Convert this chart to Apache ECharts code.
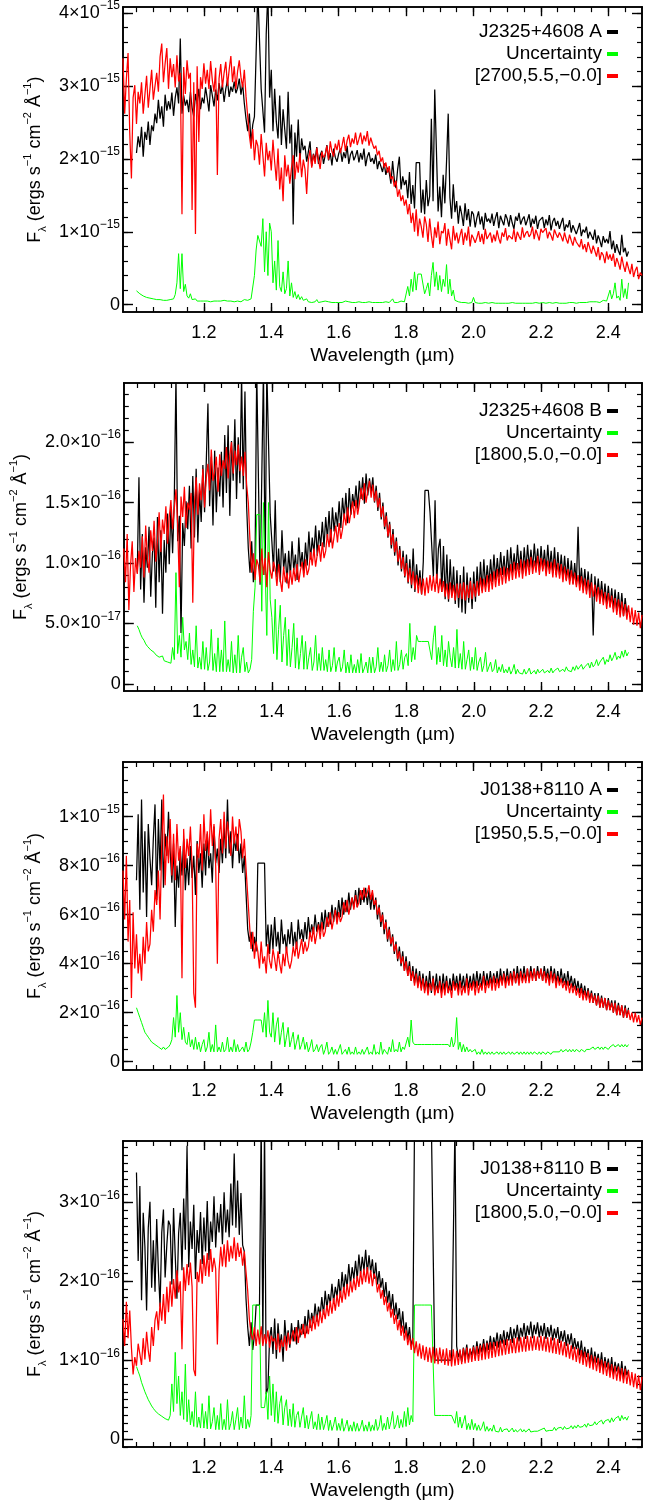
<!DOCTYPE html>
<html><head><meta charset="utf-8">
<script src="https://cdn.jsdelivr.net/npm/echarts@6/dist/echarts.min.js"></script>
<style>html,body{margin:0;padding:0;background:#fff}#c{width:661px;height:1501px}</style>
</head><body><div id="c"></div>
<script>
// ---------------- DATA ----------------
// wavelength grids (micron): each array is sampled every STEP from its start
const RED_START = 0.96, BLACK_START = 1.0, GREEN_START = 1.0;
const STEP = 0.005;
const xMajor = [1.2, 1.4, 1.6, 1.8, 2.0, 2.2, 2.4];

// Panel 1 (units of 1e-17 erg/s/cm2/A)
const p1Black = [
208,231,216,244,203,237,226,251,219,246,
238,262,249,281,255,272,244,288,266,279,
268,291,259,284,298,276,365,262,287,273,
281,264,292,270,258,289,275,296,268,284,
276,298,283,265,301,287,272,295,280,304,
289,302,278,296,308,285,299,292,306,290,
297,310,288,303,276,255,238,262,221,247,
258,344,430,430,296,296,236,372,430,284,
322,238,296,251,228,287,219,268,240,214,
292,221,247,110,236,203,254,197,228,212,
218,196,210,224,190,207,199,216,193,205,
211,193,205,219,198,208,191,214,202,196,
207,214,196,209,201,218,193,206,211,198,
204,212,195,208,199,214,190,203,209,196,
201,193,206,186,197,190,182,194,178,188,
181,166,197,172,160,186,203,158,176,164,
171,146,182,138,164,132,195,195,195,126,
158,124,171,135,149,255,142,295,295,128,
162,120,178,139,196,262,147,118,165,127,
142,111,136,124,108,139,116,131,107,128,
124,106,119,128,110,121,103,126,114,118,
112,125,108,119,127,105,122,115,109,124,
118,107,123,112,104,121,115,126,110,117,
121,109,116,124,106,118,111,122,104,115,
113,120,105,117,109,123,102,114,119,108,
115,104,112,119,101,110,106,116,99,109,
108,97,104,112,94,103,99,107,91,100,
98,89,103,84,95,88,79,94,85,90,
84,101,76,88,71,83,74,68,96,72,
78,66,73];
const p1Green = [
19,17,15,14,12,11,10,10,9,9,
8,8,7,8,7,7,6,7,6,6,
7,9,8,14,30,70,22,70,18,28,
12,9,15,7,6,8,5,6,5,7,
5,6,5,5,4,6,5,4,5,7,
5,4,6,5,5,4,5,6,4,5,
5,6,4,5,7,5,6,5,8,10,
40,75,95,95,80,118,45,100,40,112,
100,30,60,20,88,25,18,45,15,22,
60,12,30,10,18,8,14,7,11,6,
5,8,4,6,3,5,4,7,3,4,
4,3,5,3,4,6,3,4,3,5,
3,4,3,3,5,3,4,3,3,4,
3,3,4,3,3,5,3,3,4,3,
3,4,3,3,3,4,3,3,4,3,
3,3,8,3,4,3,3,5,3,4,
4,25,12,35,18,45,20,42,42,42,
42,15,22,30,12,40,58,25,45,20,
40,18,35,25,55,15,35,12,20,6,
5,4,4,3,3,3,3,2,3,3,
10,3,3,2,3,2,2,3,2,2,
2,3,2,2,3,2,2,2,3,2,
2,2,2,3,2,2,2,2,3,2,
2,2,3,2,2,2,2,3,2,2,
2,3,2,2,2,3,2,2,2,3,
2,2,3,2,3,2,2,3,2,3,
3,2,3,3,2,3,4,3,3,4,
3,4,3,4,5,3,4,6,4,5,
6,20,8,15,30,9,12,6,35,10,
22,8,30];
const p1Red = [
338,262,310,345,236,173,284,301,248,292,
276,305,262,288,314,270,296,322,281,300,
318,292,340,358,305,331,352,296,338,312,
330,298,342,306,318,124,326,289,335,310,
318,130,305,97,327,223,312,296,331,303,
322,296,334,308,292,325,178,310,330,298,
318,333,300,322,341,305,327,296,320,335,
312,298,322,286,258,232,214,241,198,226,
218,192,234,205,176,222,198,211,184,226,
196,170,214,158,188,142,205,176,192,166,
188,205,172,196,181,208,175,199,186,152,
198,212,188,206,193,215,199,186,210,202,
206,218,199,224,210,203,221,212,226,208,
218,230,211,225,233,216,228,221,236,219,
227,236,220,232,224,238,218,229,221,214,
218,205,211,196,202,188,195,181,190,172,
176,162,170,148,158,142,150,136,144,124,
138,112,126,100,131,94,118,107,92,121,
110,86,118,95,78,106,92,114,83,101,
98,112,81,104,90,76,108,88,99,84,
95,104,82,99,88,107,80,96,91,85,
92,101,86,97,83,104,90,88,99,85,
96,87,102,91,84,99,93,105,88,95,
97,90,104,86,100,94,89,106,92,98,
101,93,97,107,90,103,96,88,104,99,
98,105,91,100,95,88,103,97,92,99,
94,87,99,90,84,96,88,81,93,86,
85,79,90,76,83,72,86,78,70,81,
74,66,79,61,72,68,57,73,62,69,
60,70,52,64,57,48,66,54,45,59,
50,42,56,38,47,52,35,44,40];

// Panel 2 (units of 1e-18)
const p2Black = [
92,171,78,124,67,113,96,130,72,108,
121,63,138,84,127,58,119,92,141,99,
146,108,152,255,118,139,42,133,114,151,
128,164,112,172,121,178,117,160,134,181,
142,183,232,147,188,131,193,142,179,155,
192,146,206,158,214,139,201,168,219,153,
204,166,255,161,242,147,112,92,118,84,
100,260,260,82,82,260,90,260,260,140,
118,93,152,88,112,84,127,95,108,83,
110,89,118,94,107,86,121,97,109,92,
117,98,126,103,121,108,131,106,127,114,
134,113,138,120,143,117,146,126,142,130,
151,129,154,137,158,133,162,140,157,147,
164,145,168,153,171,149,174,156,170,158,
171,150,164,143,158,136,150,128,142,121,
134,112,128,106,121,98,114,93,110,88,
107,83,103,79,112,76,99,81,94,74,
101,160,160,160,142,142,88,152,83,112,
120,76,114,70,107,68,103,73,97,66,
94,63,90,59,97,58,92,67,88,62,
93,68,97,73,101,77,103,80,98,82,
103,84,107,86,104,88,109,90,106,87,
111,89,113,92,108,93,115,94,110,91,
113,94,115,96,111,95,116,97,112,93,
114,95,111,93,115,94,110,92,113,90,
109,90,107,88,106,86,104,85,102,83,
100,82,130,80,96,78,95,77,93,75,
91,40,89,72,87,70,85,68,83,66,
81,64,79,62,78,60,76,58,75,56,
71,58,64];
const p2Green = [
48,45,41,38,36,33,31,30,28,27,
26,24,25,22,21,23,19,20,18,19,
17,30,20,92,25,40,22,55,28,35,
20,42,16,28,14,48,13,22,12,35,
12,30,11,18,45,11,25,10,38,10,
28,10,52,10,20,10,35,9,24,9,
40,9,22,30,10,18,9,12,20,60,
80,140,140,140,60,150,95,40,150,70,
55,25,70,20,45,65,18,40,55,15,
45,14,30,50,13,38,12,25,40,12,
35,12,22,30,11,18,40,11,25,11,
30,11,20,10,28,10,15,30,10,18,
22,10,14,28,9,18,9,24,9,16,
9,20,9,25,9,13,18,9,22,9,
22,9,14,30,10,18,10,24,10,15,
28,10,20,11,35,11,16,28,12,22,
25,15,50,18,30,20,40,35,35,35,
35,35,35,35,35,20,38,48,16,30,
18,40,15,28,14,35,22,14,30,13,
45,13,25,12,35,12,20,28,11,22,
12,30,11,18,22,10,15,26,10,14,
18,10,12,20,9,14,10,16,9,12,
9,14,8,11,16,8,12,9,10,8,
12,8,10,13,8,9,11,8,12,9,
8,12,9,10,11,9,13,9,11,10,
13,10,11,12,10,14,11,12,10,14,
11,15,12,13,16,12,14,13,17,13,
18,14,16,20,15,18,17,22,16,20,
18,24,19,22,26,20,23,21,27,22,
28,23,26];
const p2Red = [
112,84,124,61,98,118,76,104,91,110,
96,122,88,131,104,92,127,110,135,101,
118,142,109,136,124,147,116,138,152,128,
145,161,132,80,155,138,163,129,150,144,
158,67,149,171,140,166,152,178,146,170,
182,160,194,168,176,188,159,190,172,185,
178,196,170,189,200,174,193,181,198,176,
188,172,192,165,150,118,92,108,86,103,
98,84,112,90,104,80,109,94,87,101,
95,81,99,86,76,97,84,92,79,94,
82,96,85,99,84,94,101,88,103,90,
95,109,98,112,97,107,115,101,117,104,
110,124,113,128,112,122,131,117,133,120,
128,141,131,146,133,142,151,137,152,140,
149,162,152,166,150,160,168,154,165,151,
160,146,154,138,147,130,139,122,132,115,
124,109,118,101,111,95,105,89,100,84,
96,82,93,78,90,75,88,74,87,73,
88,75,90,77,89,76,91,75,87,76,
85,72,83,70,84,71,82,69,83,71,
83,70,84,69,82,71,85,70,83,72,
85,73,88,75,87,76,90,76,91,78,
93,80,95,81,96,82,97,83,96,85,
99,86,101,87,100,88,103,87,102,89,
103,90,105,91,102,92,106,90,104,93,
103,89,102,91,101,88,103,88,100,87,
99,84,97,85,95,82,94,82,92,80,
90,77,89,75,87,74,86,71,84,72,
82,68,80,66,78,65,76,62,75,63,
73,59,71,57,70,55,68,56,66,53,
65,51,63,49,61,48,59,46,57];

// Panel 3 (units of 1e-17)
const p3Black = [
74,101,62,107,69,94,59,97,83,72,
91,105,66,99,78,107,71,93,84,102,
86,73,89,55,80,71,87,76,91,70,
83,72,88,75,84,68,90,77,85,71,
89,76,93,79,85,73,96,81,87,77,
91,81,97,83,107,85,94,79,92,86,
93,81,89,77,84,69,54,49,53,45,
51,45,81,81,81,81,81,47,56,44,
56,46,59,47,53,44,58,48,52,45,
54,48,57,47,53,46,58,50,54,49,
57,50,59,51,56,52,60,53,57,53,
61,54,62,55,61,56,64,57,63,58,
66,59,67,60,66,61,69,62,67,63,
70,63,71,64,70,65,71,64,70,62,
69,62,67,58,64,55,61,52,58,49,
55,47,52,44,49,41,47,39,45,37,
43,35,41,33,39,32,38,31,37,30,
36,29,35,29,37,28,35,29,36,28,
35,28,36,29,35,28,34,29,36,30,
35,29,36,30,35,29,36,30,35,30,
36,30,37,31,36,30,37,31,36,31,
37,31,36,32,37,31,38,32,37,32,
38,32,37,33,38,32,39,33,38,33,
39,33,38,33,39,34,38,33,39,34,
38,33,39,34,38,33,39,33,38,32,
37,32,38,32,36,31,37,31,35,30,
34,29,33,28,32,27,31,26,30,25,
29,24,28,23,28,22,27,22,26,21,
26,21,25,20,25,19,24,19,23,18,
23,18,22];
const p3Green = [
22,20,18,16,14,12,11,10,9,8,
8,7,7,6,6,5,6,5,5,6,
7,9,18,10,27,12,20,9,14,8,
7,12,6,9,5,10,5,8,4,7,
9,4,6,12,4,7,4,15,4,6,
4,8,4,5,10,4,6,4,9,4,
7,4,5,6,4,8,4,5,8,12,
17,17,17,17,17,12,20,10,25,12,
10,20,8,15,18,7,12,16,6,10,
14,6,9,12,5,8,11,5,7,10,
5,8,4,6,9,4,5,7,4,6,
7,3,5,8,3,4,6,3,5,3,
3,7,3,4,5,3,6,3,4,3,
6,3,4,3,5,3,3,6,3,4,
3,7,3,4,3,8,3,5,4,3,
6,4,9,4,5,4,8,4,6,5,
5,10,6,17,8,7,7,7,7,7,
7,7,7,7,7,7,7,7,7,7,
7,7,7,7,7,7,6,10,6,8,
18,5,8,4,7,4,6,4,5,4,
4,5,3,4,3,5,3,4,3,4,
3,4,3,3,4,3,4,3,4,3,
3,4,3,4,3,3,4,3,4,3,
4,3,4,3,4,3,4,4,3,4,
3,4,4,3,4,4,3,4,4,4,
4,4,5,4,4,5,4,5,4,5,
4,5,5,4,5,5,4,5,5,5,
5,6,5,5,6,5,6,5,6,6,
5,6,6,7,6,6,7,6,7,6,
7,6,7];
const p3Red = [
78,58,84,49,66,26,61,38,52,36,
44,33,51,40,57,45,48,62,53,70,
64,78,58,88,109,72,92,81,99,76,
93,74,97,82,88,34,95,79,91,84,
96,80,28,22,89,83,97,78,101,86,
94,84,103,88,97,80,40,91,99,85,
102,87,98,92,84,100,89,96,86,99,
94,83,91,79,68,57,46,53,42,49,
45,38,49,40,43,36,48,41,38,46,
42,37,45,40,36,44,39,47,41,38,
41,47,43,49,42,46,50,44,49,45,
47,53,49,55,48,52,56,50,57,51,
53,59,55,61,54,58,62,56,61,57,
59,65,61,66,60,64,67,62,68,63,
65,70,66,71,67,69,72,66,70,64,
66,60,63,57,60,54,57,50,54,48,
51,45,48,42,45,40,43,37,41,35,
39,33,37,31,36,30,35,29,34,28,
33,27,32,29,34,27,31,28,33,26,
32,27,33,28,31,26,33,29,32,27,
33,27,31,28,34,27,32,29,33,27,
33,28,32,29,35,28,33,30,34,29,
35,29,34,30,35,31,36,30,35,31,
36,31,37,32,36,31,37,32,36,32,
38,32,37,33,38,33,37,34,38,33,
37,32,36,31,37,32,36,30,35,31,
34,30,33,29,33,28,32,28,31,27,
30,26,30,25,29,25,29,24,28,24,
27,23,27,22,26,22,26,21,25,21,
24,20,24,19,23,19,23,18,22,18,
21,17,20,16,20,16,19,15,18];

// Panel 4 (units of 1e-18)
const p4Black = [
338,226,321,176,287,244,163,268,301,192,
252,187,279,214,168,262,291,205,246,277,
271,196,293,232,178,261,287,214,305,240,
372,218,276,241,297,203,265,236,288,222,
281,238,302,227,276,250,308,243,287,262,
298,247,313,262,291,256,324,271,362,268,
328,259,312,246,238,178,142,118,148,113,
132,170,170,170,400,125,400,57,65,128,
142,108,153,102,147,118,133,98,151,121,
138,116,147,124,142,120,151,129,146,133,
156,134,164,141,160,147,172,149,168,157,
180,158,188,166,184,172,197,174,193,181,
203,180,212,188,209,193,222,196,218,203,
226,203,234,209,231,214,240,211,233,212,
228,203,224,196,213,192,204,180,199,173,
188,164,184,157,173,152,166,140,162,134,
148,126,142,118,128,400,400,400,400,400,
400,400,400,400,400,400,400,100,100,100,
100,100,100,100,100,100,100,100,100,400,
118,104,112,98,116,103,120,101,114,106,
119,102,124,108,121,110,127,109,125,113,
131,113,129,118,135,116,133,121,138,119,
136,125,142,122,140,128,145,124,141,130,
147,127,144,132,149,128,145,133,148,129,
144,131,147,127,142,130,145,125,140,128,
142,122,137,124,138,118,133,120,134,114,
128,114,124,106,125,102,117,104,114,96,
116,94,111,97,108,90,110,88,104,91,
102,84,104,82,98,86,96,78,99,76,
93,81,88];
const p4Green = [
92,86,80,72,66,60,55,50,46,42,
39,36,34,32,30,29,27,26,28,24,
30,70,35,110,45,80,30,60,25,95,
22,50,18,35,16,60,15,28,14,45,
14,35,13,55,13,22,40,12,30,12,
45,12,25,12,50,12,20,35,12,25,
40,12,28,14,55,13,25,15,30,170,
170,170,170,170,40,40,40,60,25,80,
30,70,22,60,20,45,55,18,40,50,
17,38,16,45,15,30,35,15,28,40,
14,30,13,25,35,13,22,12,32,12,
28,12,20,30,11,24,11,18,28,11,
20,11,26,10,16,24,10,18,10,22,
10,20,10,15,24,10,18,10,22,10,
18,11,25,11,16,30,11,20,12,28,
13,22,35,13,18,30,14,25,15,35,
16,40,18,30,22,170,170,170,170,170,
170,170,170,170,170,170,170,30,30,30,
30,30,30,30,30,30,30,30,30,20,
35,15,28,14,22,30,12,20,12,25,
12,20,11,18,11,15,22,10,16,10,
14,10,18,10,12,9,15,9,12,10,
13,9,11,14,9,12,9,11,13,9,
12,9,10,13,9,11,10,12,10,11,
12,10,14,10,12,11,13,11,15,11,
14,12,15,12,16,13,15,14,17,13,
17,14,18,15,17,16,19,15,20,17,
19,18,22,18,21,20,24,19,23,21,
25,21,27,22,26,24,29,23,30,25,
28,24,29];
const p4Red = [
152,118,174,128,163,116,82,104,93,121,
108,94,128,101,136,112,98,142,118,151,
162,138,173,150,184,146,193,161,200,168,
203,178,214,186,200,114,218,188,222,195,
224,193,88,80,212,199,228,197,233,207,
236,206,241,212,230,216,120,213,244,219,
247,218,252,225,245,229,256,226,249,231,
243,220,238,212,188,152,133,126,142,118,
139,120,143,118,133,121,138,116,131,124,
128,113,134,110,126,117,131,112,135,120,
120,138,124,142,122,140,132,146,128,144,
133,152,137,156,139,158,143,162,147,165,
152,170,156,175,159,179,163,183,168,188,
173,193,177,197,181,200,186,204,189,207,
193,213,196,216,199,218,197,214,194,210,
204,186,197,178,189,170,181,162,173,154,
165,146,158,138,151,131,144,125,138,119,
132,113,128,109,124,105,121,102,119,100,
117,98,116,97,117,96,115,95,116,97,
114,94,115,93,113,92,114,93,112,94,
114,95,115,96,116,97,115,98,117,99,
118,99,119,100,121,101,122,102,123,103,
123,104,124,105,125,106,126,107,127,108,
127,109,128,109,129,110,129,111,130,111,
131,112,130,112,131,113,130,112,131,112,
130,111,129,110,129,109,128,108,127,107,
125,106,123,104,121,102,119,100,117,98,
115,96,113,94,111,92,109,90,107,88,
105,86,103,84,101,82,99,80,97,78,
95,76,93,74,92,73,90,71,89,70,
87,68,85,66,83,64,81,62,79];

// y tick values / labels per panel (in the panel's units); '|' separates the superscript
const p1YTicks = [0, 100, 200, 300, 400];
const p1YLabels = ['0', '1×10|−15', '2×10|−15', '3×10|−15', '4×10|−15'];
const p2YTicks = [0, 50, 100, 150, 200];
const p2YLabels = ['0', '5.0×10|−17', '1.0×10|−16', '1.5×10|−16', '2.0×10|−16'];
const p3YTicks = [0, 20, 40, 60, 80, 100];
const p3YLabels = ['0', '2×10|−16', '4×10|−16', '6×10|−16', '8×10|−16', '1×10|−15'];
const p4YTicks = [0, 100, 200, 300];
const p4YLabels = ['0', '1×10|−16', '2×10|−16', '3×10|−16'];

// ---------------- CHART ----------------
const FONT = '"Liberation Sans", Arial, Helvetica, sans-serif';
const X_MIN = 0.96, X_MAX = 2.5;
const GRID_LEFT = 123, GRID_RIGHT = 19, GRID_H = 308;
const panels = [
  {top: 4, names: ['J2325+4608 A', 'Uncertainty', '[2700,5.5,−0.0]'], black: p1Black, green: p1Green, red: p1Red,
   yMin: -10, yMax: 408, ticks: p1YTicks, labels: p1YLabels, minor: 20},
  {top: 383, names: ['J2325+4608 B', 'Uncertainty', '[1800,5.0,−0.0]'], black: p2Black, green: p2Green, red: p2Red,
   yMin: -6, yMax: 249, ticks: p2YTicks, labels: p2YLabels, minor: 10},
  {top: 762, names: ['J0138+8110 A', 'Uncertainty', '[1950,5.5,−0.0]'], black: p3Black, green: p3Green, red: p3Red,
   yMin: -3.4, yMax: 122.3, ticks: p3YTicks, labels: p3YLabels, minor: 5},
  {top: 1141, names: ['J0138+8110 B', 'Uncertainty', '[1800,5.0,−0.0]'], black: p4Black, green: p4Green, red: p4Red,
   yMin: -10, yMax: 378, ticks: p4YTicks, labels: p4YLabels, minor: 10}
];
const COLORS = ['#000000', '#00ff00', '#ff0000'];
const WIDTHS = [1.25, 1, 1.25];

function toPairs(start, arr) {
  return arr.map((v, i) => [+(start + i * STEP).toFixed(4), v]);
}
function stepList(min, max, step) {
  const out = [];
  for (let k = Math.ceil(min / step - 1e-9); k * step <= max + 1e-9; k++) out.push(+(k * step).toFixed(4));
  return out;
}
const xMinor = stepList(1.0, 2.45, 0.05);

const AXIS_LINE = {show: true, onZero: false, lineStyle: {color: '#000', width: 1.6}};
const grids = [], xAxes = [], yAxes = [], series = [], legends = [];

panels.forEach((p, g) => {
  grids.push({left: GRID_LEFT, right: GRID_RIGHT, top: p.top, height: GRID_H, containLabel: false});
  const yMinor = stepList(p.yMin, p.yMax, p.minor);
  const baseX = {gridIndex: g, type: 'value', min: X_MIN, max: X_MAX, splitLine: {show: false}, axisLine: AXIS_LINE};
  xAxes.push(Object.assign({}, baseX, {
    position: 'bottom',
    axisTick: {show: true, inside: true, length: 9, customValues: xMajor, lineStyle: {color: '#000', width: 1.4}},
    axisLabel: {show: true, customValues: xMajor, formatter: v => (+v).toFixed(1), color: '#000', fontSize: 18, fontFamily: FONT, margin: 12},
    name: 'Wavelength (µm)', nameLocation: 'middle', nameGap: 34,
    nameTextStyle: {color: '#000', fontSize: 19, fontFamily: FONT}
  }));
  xAxes.push(Object.assign({}, baseX, {position: 'bottom',
    axisTick: {show: true, inside: true, length: 5, customValues: xMinor, lineStyle: {color: '#000', width: 1.2}},
    axisLabel: {show: false}}));
  xAxes.push(Object.assign({}, baseX, {position: 'top',
    axisTick: {show: true, inside: true, length: 9, customValues: xMajor, lineStyle: {color: '#000', width: 1.4}},
    axisLabel: {show: false}}));
  xAxes.push(Object.assign({}, baseX, {position: 'top',
    axisTick: {show: true, inside: true, length: 5, customValues: xMinor, lineStyle: {color: '#000', width: 1.2}},
    axisLabel: {show: false}}));

  const baseY = {gridIndex: g, type: 'value', min: p.yMin, max: p.yMax, splitLine: {show: false}, axisLine: AXIS_LINE};
  const fmtY = v => {
    const i = p.ticks.findIndex(t => Math.abs(t - v) < 1e-6);
    if (i < 0) return '';
    const parts = p.labels[i].split('|');
    return parts.length === 1 ? '{m|' + parts[0] + '}' : '{m|' + parts[0] + '}{s|' + parts[1] + '}';
  };
  yAxes.push(Object.assign({}, baseY, {
    position: 'left',
    axisTick: {show: true, inside: true, length: 10, customValues: p.ticks, lineStyle: {color: '#000', width: 1.4}},
    axisLabel: {show: true, customValues: p.ticks, formatter: fmtY, margin: 3,
      rich: {
        m: {fontSize: 18, color: '#000', fontFamily: FONT, lineHeight: 26, verticalAlign: 'middle'},
        s: {fontSize: 12, color: '#000', fontFamily: FONT, lineHeight: 14, verticalAlign: 'top'}
      }},
    name: '{m|F}{sub|λ}{m| (ergs s}{sup|−1}{m| cm}{sup|−2}{m| Å}{sup|−1}{m|)}',
    nameLocation: 'middle', nameRotate: 90, nameGap: 72,
    nameTextStyle: {color: '#000', fontFamily: FONT, rich: {
      m: {fontSize: 18, color: '#000', fontFamily: FONT, lineHeight: 26, verticalAlign: 'middle'},
      sup: {fontSize: 11, color: '#000', fontFamily: FONT, lineHeight: 12, verticalAlign: 'top'},
      sub: {fontSize: 11, color: '#000', fontFamily: FONT, lineHeight: 12, verticalAlign: 'bottom'}
    }}
  }));
  yAxes.push(Object.assign({}, baseY, {position: 'left',
    axisTick: {show: true, inside: true, length: 5, customValues: yMinor, lineStyle: {color: '#000', width: 1.2}},
    axisLabel: {show: false}}));
  yAxes.push(Object.assign({}, baseY, {position: 'right',
    axisTick: {show: true, inside: true, length: 10, customValues: p.ticks, lineStyle: {color: '#000', width: 1.4}},
    axisLabel: {show: false}}));
  yAxes.push(Object.assign({}, baseY, {position: 'right',
    axisTick: {show: true, inside: true, length: 5, customValues: yMinor, lineStyle: {color: '#000', width: 1.2}},
    axisLabel: {show: false}}));

  const datasets = [toPairs(BLACK_START, p.black), toPairs(GREEN_START, p.green), toPairs(RED_START, p.red)];
  datasets.forEach((d, k) => {
    series.push({
      type: 'line', name: p.names[k], xAxisIndex: g * 4, yAxisIndex: g * 4, data: d,
      symbol: 'none', showSymbol: false, clip: true, silent: true,
      lineStyle: {color: COLORS[k], width: WIDTHS[k]}, itemStyle: {color: COLORS[k]},
      emphasis: {disabled: true}, z: k === 2 ? 3 : 2
    });
  });
  [28, 50, 72].forEach((dy, k) => {
    legends.push({
      data: [p.names[k]], right: 43, top: p.top + dy - 10, orient: 'horizontal', align: 'right',
      icon: 'rect', itemWidth: 11, itemHeight: 4, padding: 0, selectedMode: false,
      textStyle: {color: '#000', fontSize: 19, fontFamily: FONT, lineHeight: 20}
    });
  });
});

const chart = echarts.init(document.getElementById('c'), null, {renderer: 'canvas'});
chart.setOption({
  animation: false,
  backgroundColor: '#fff',
  textStyle: {fontFamily: FONT},
  grid: grids, xAxis: xAxes, yAxis: yAxes, series: series, legend: legends
});
</script>
</body></html>
